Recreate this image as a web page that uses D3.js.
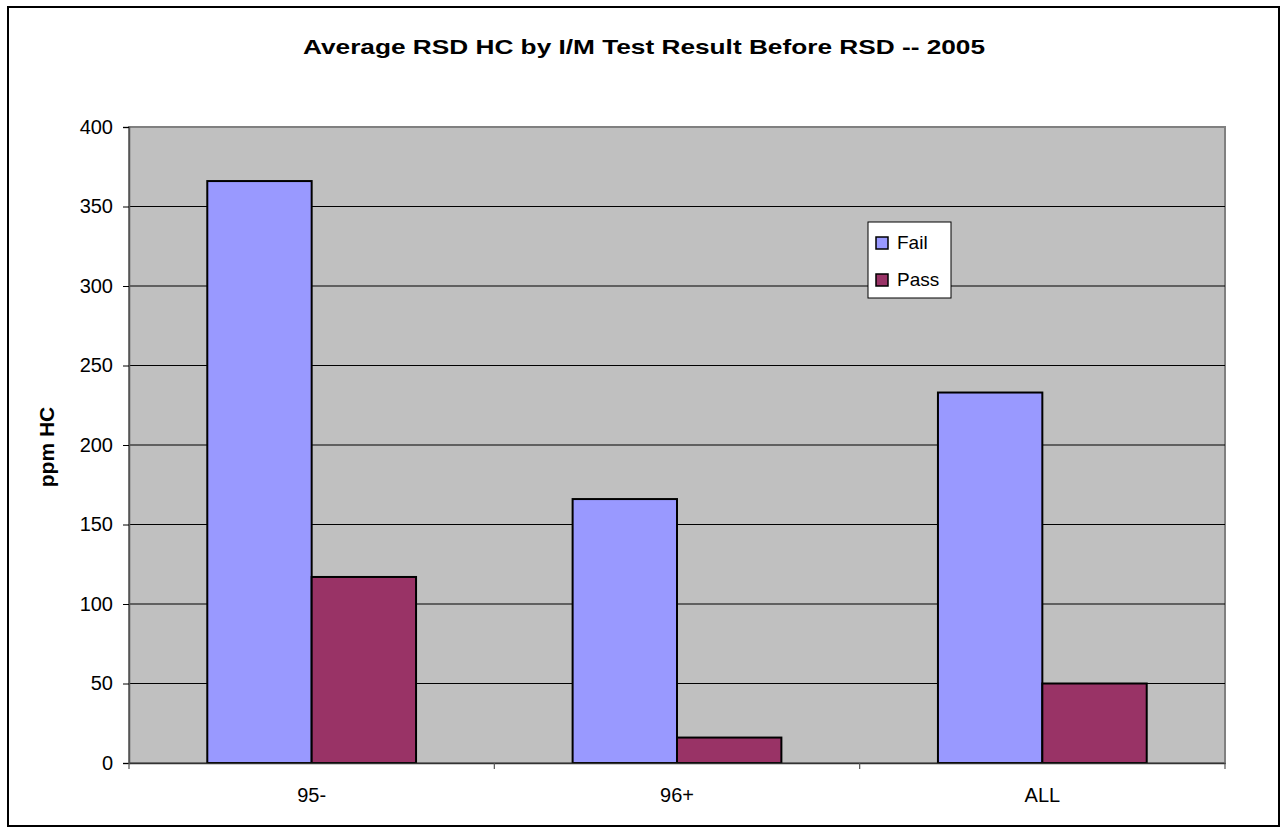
<!DOCTYPE html>
<html>
<head>
<meta charset="utf-8">
<script src="https://cdn.jsdelivr.net/npm/d3@7"></script>
<style>
    body { margin: 0; background: #fff; }
    text { font-family: Arial, "Liberation Sans", sans-serif; fill: #000; }
</style>
</head>
<body>
<script>
(function(){
    // chart data
    var categories = ["95-", "96+", "ALL"];
    var seriesNames = ["Fail", "Pass"];
    var failValues = [366, 166, 233];
    var passValues = [117, 16, 50];
    var yTicks = [0, 50, 100, 150, 200, 250, 300, 350, 400];
    var colors = ["#9999FF", "#993366"];

    var width = 1287,
        height = 833,
        plotLeft = 129,
        plotRight = 1225,
        plotTop = 127,
        plotBottom = 763;

    var svg = d3.select("body")
        .append("svg")
        .attr("width", width)
        .attr("height", height);

    // outer chart border
    svg.append("rect")
        .attr("x", 8)
        .attr("y", 7)
        .attr("width", 1271)
        .attr("height", 819)
        .attr("fill", "#fff")
        .attr("stroke", "#000")
        .attr("stroke-width", 2);

    var xScale = d3.scaleBand()
        .domain(categories)
        .range([plotLeft, plotRight]);

    var yScale = d3.scaleLinear()
        .domain([0, 400])
        .range([plotBottom, plotTop]);

    // bar width follows Excel's 150% gap width
    var barWidth = xScale.bandwidth() / 3.5;
    var xInner = d3.scaleBand()
        .domain(seriesNames)
        .range([0, barWidth * 2]);

    // plot area
    svg.append("rect")
        .attr("x", plotLeft)
        .attr("y", plotTop)
        .attr("width", plotRight - plotLeft)
        .attr("height", plotBottom - plotTop)
        .attr("fill", "#C0C0C0")
        .attr("stroke", "#808080")
        .attr("stroke-width", 2);

    // gridlines
    svg.selectAll(".grid")
        .data(yTicks.slice(1))
        .enter()
        .append("line")
        .attr("class", "grid")
        .attr("x1", plotLeft)
        .attr("x2", plotRight)
        .attr("y1", d => yScale(d))
        .attr("y2", d => yScale(d))
        .attr("stroke", d => d === 400 ? "#808080" : "#000")
        .attr("stroke-width", 1.2);

    // bars
    var rows = categories.map(function(c, i){
        return [
            {cat: c, name: "Fail", value: failValues[i]},
            {cat: c, name: "Pass", value: passValues[i]}
        ];
    });

    svg.selectAll(".group")
        .data(rows)
        .enter()
        .append("g")
        .attr("class", "group")
        .attr("transform", d => "translate(" + (xScale(d[0].cat) + (xScale.bandwidth() - barWidth * 2) / 2) + ",0)")
        .selectAll("rect")
        .data(d => d)
        .enter()
        .append("rect")
        .attr("x", d => xInner(d.name))
        .attr("width", xInner.bandwidth())
        .attr("y", d => yScale(d.value))
        .attr("height", d => plotBottom - yScale(d.value))
        .attr("fill", (d, i) => colors[i])
        .attr("stroke", "#000")
        .attr("stroke-width", 2);

    // y axis
    var yAxis = d3.axisLeft(yScale)
        .tickValues(yTicks)
        .tickSize(6)
        .tickPadding(10);

    var yG = svg.append("g")
        .attr("transform", "translate(" + plotLeft + ",0)")
        .call(yAxis);
    yG.select(".domain").attr("stroke", "#555").attr("stroke-width", 1.5);
    yG.selectAll(".tick line").attr("stroke", "#000");
    yG.selectAll("text")
        .style("font-size", "20px")
        .style("font-family", "Arial, 'Liberation Sans', sans-serif");

    // x axis
    var xAxis = d3.axisBottom(xScale)
        .tickSize(0)
        .tickPadding(25);

    var xG = svg.append("g")
        .attr("transform", "translate(0," + plotBottom + ")")
        .call(xAxis);
    xG.select(".domain").attr("stroke", "#333").attr("stroke-width", 1.5);
    xG.selectAll("text")
        .style("font-size", "20px")
        .style("font-family", "Arial, 'Liberation Sans', sans-serif");

    // category boundary ticks
    var bounds = categories.map(d => xScale(d)).concat([plotRight]);
    svg.selectAll(".xtick")
        .data(bounds)
        .enter()
        .append("line")
        .attr("x1", d => d)
        .attr("x2", d => d)
        .attr("y1", plotBottom)
        .attr("y2", plotBottom + 6)
        .attr("stroke", "#555")
        .attr("stroke-width", 1.2);

    // title
    svg.append("text")
        .attr("x", 644)
        .attr("y", 54)
        .attr("text-anchor", "middle")
        .attr("font-weight", "bold")
        .style("font-size", "21px")
        .attr("textLength", 682)
        .attr("lengthAdjust", "spacingAndGlyphs")
        .text("Average RSD HC by I/M Test Result Before RSD -- 2005");

    // y axis title
    svg.append("text")
        .attr("transform", "translate(54,447) rotate(-90)")
        .attr("text-anchor", "middle")
        .attr("font-weight", "bold")
        .style("font-size", "21px")
        .text("ppm HC");

    // legend
    var legend = svg.append("g")
        .attr("transform", "translate(868,222)");

    legend.append("rect")
        .attr("width", 83)
        .attr("height", 76)
        .attr("fill", "#fff")
        .attr("stroke", "#000")
        .attr("stroke-width", 1);

    var items = legend.selectAll(".item")
        .data(seriesNames)
        .enter()
        .append("g")
        .attr("class", "item")
        .attr("transform", (d, i) => "translate(8," + (15 + i * 37) + ")");

    items.append("rect")
        .attr("width", 12)
        .attr("height", 12)
        .attr("fill", (d, i) => colors[i])
        .attr("stroke", "#000")
        .attr("stroke-width", 1.5);

    items.append("text")
        .attr("x", 21)
        .attr("y", 12)
        .style("font-size", "19px")
        .text(d => d);
})();
</script>
</body>
</html>
